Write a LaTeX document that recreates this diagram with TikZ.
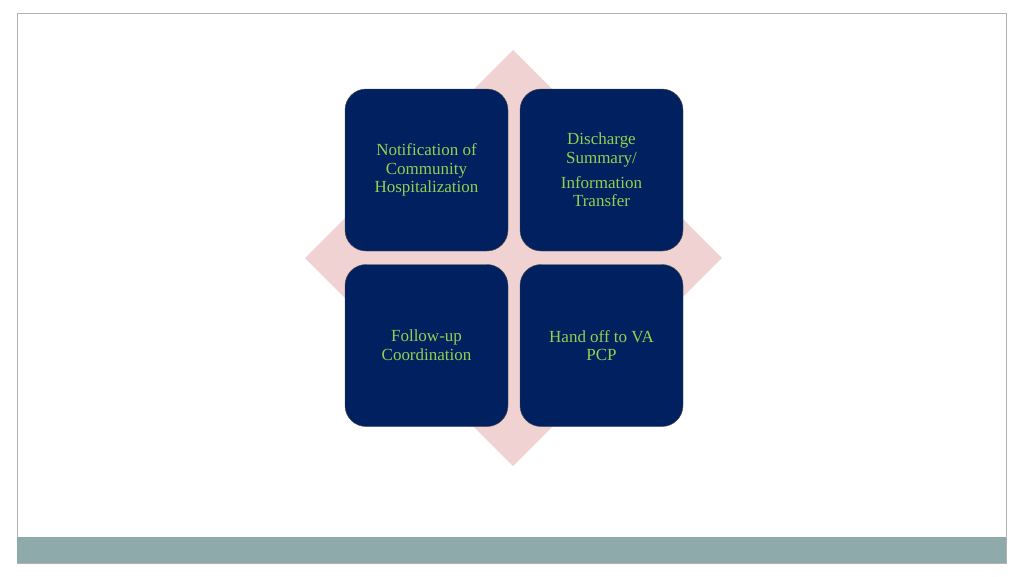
\documentclass[tikz,border=0pt]{standalone}
\usepackage{fontspec}
\setmainfont{Liberation Serif}
\definecolor{navy}{RGB}{0,32,96}
\definecolor{leaf}{RGB}{146,208,80}
\definecolor{blush}{RGB}{240,210,210}
\definecolor{slate}{RGB}{143,170,170}
\begin{document}
\begin{tikzpicture}[x=0.03cm,y=-0.03cm,
    stepbox/.style={rectangle,rounded corners=18pt,draw=black!70,fill=navy,
      minimum width=163*0.03cm,minimum height=162*0.03cm,
      text=leaf,align=center,font=\fontsize{14.5}{16}\selectfont}]
  \useasboundingbox (0,0) rectangle (1024,576);
  \fill[white] (0,0) rectangle (1024,576);
  \draw[gray!60] (17,13) rectangle (1006,563);
  \fill[slate] (17,537) rectangle (1006,563);
  \fill[blush] (513,50) -- (722,258) -- (513,466) -- (305,258) -- cycle;

  \node(notif) [stepbox] at (426.5,170) {Notification of\\Community\\Hospitalization};
  \node(disch) [stepbox] at (601.5,170) {Discharge\\Summary/\\[5pt]Information\\Transfer};
  \node(follow) [stepbox] at (426.5,345.5) {Follow-up\\Coordination};
  \node(hand) [stepbox] at (601.5,345.5) {Hand off to VA\\PCP};
\end{tikzpicture}
\end{document}
